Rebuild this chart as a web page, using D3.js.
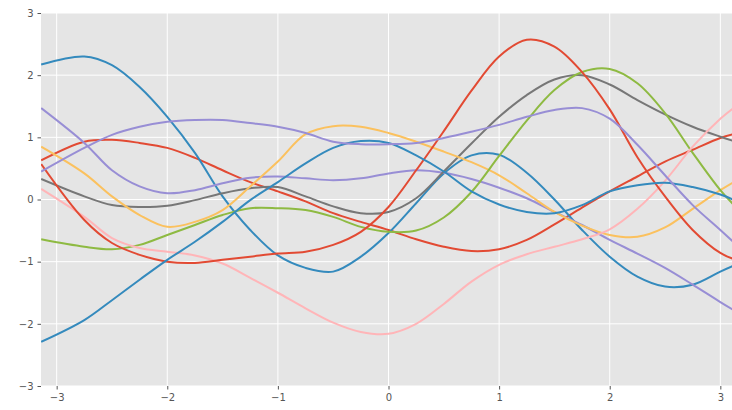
<!DOCTYPE html>
<html><head><meta charset="utf-8">
<script src="https://cdn.jsdelivr.net/npm/d3@7"></script>
<style>body{margin:0;background:#fff;} text{font-family:"DejaVu Sans",sans-serif;}</style>
</head><body><svg id="c" width="732" height="410"></svg>
<script>
const xs = [-3.14,-2.75,-2.5,-2.25,-2,-1.75,-1.5,-1.25,-1,-0.75,-0.5,-0.25,0,0.25,0.5,0.75,1,1.25,1.5,1.75,2,2.25,2.5,2.75,3,3.14];
const red1    = [0.63,0.93,0.96,0.91,0.83,0.67,0.47,0.28,0.13,-0.03,-0.22,-0.36,-0.49,-0.64,-0.76,-0.83,-0.80,-0.65,-0.40,-0.13,0.13,0.37,0.61,0.80,0.99,1.06];
const blue1   = [2.17,2.30,2.16,1.81,1.33,0.75,0.05,-0.49,-0.90,-1.10,-1.16,-0.92,-0.54,-0.06,0.42,0.71,0.72,0.43,0.00,-0.49,-0.92,-1.24,-1.40,-1.37,-1.16,-1.05];
const purple1 = [1.47,0.91,0.47,0.21,0.10,0.15,0.26,0.35,0.37,0.34,0.31,0.34,0.42,0.47,0.43,0.33,0.19,0.02,-0.20,-0.41,-0.65,-0.87,-1.10,-1.37,-1.65,-1.80];
const gray    = [0.33,0.05,-0.09,-0.12,-0.10,-0.01,0.10,0.18,0.20,0.05,-0.11,-0.22,-0.20,0.02,0.45,0.90,1.33,1.68,1.93,2.00,1.85,1.60,1.37,1.17,1.01,0.93];
const yellow  = [0.85,0.42,0.05,-0.25,-0.44,-0.36,-0.17,0.21,0.61,1.05,1.18,1.17,1.07,0.93,0.77,0.60,0.39,0.10,-0.20,-0.42,-0.57,-0.60,-0.45,-0.15,0.15,0.30];
const green   = [-0.64,-0.76,-0.80,-0.73,-0.57,-0.41,-0.25,-0.14,-0.14,-0.17,-0.28,-0.44,-0.52,-0.50,-0.29,0.12,0.70,1.27,1.76,2.05,2.10,1.87,1.39,0.75,0.15,-0.12];
const pink    = [0.17,-0.28,-0.62,-0.78,-0.84,-0.90,-1.03,-1.26,-1.50,-1.75,-1.98,-2.13,-2.16,-2.00,-1.68,-1.32,-1.05,-0.88,-0.76,-0.64,-0.48,-0.15,0.30,0.85,1.30,1.50];
const red2    = [0.57,-0.33,-0.70,-0.89,-1.00,-1.02,-0.97,-0.92,-0.87,-0.84,-0.73,-0.52,-0.12,0.47,1.10,1.75,2.30,2.57,2.46,2.05,1.45,0.68,0.05,-0.49,-0.86,-0.97];
const blue2   = [-2.29,-1.94,-1.62,-1.29,-0.97,-0.68,-0.36,-0.01,0.28,0.58,0.83,0.94,0.91,0.71,0.45,0.13,-0.08,-0.20,-0.22,-0.09,0.13,0.23,0.27,0.20,0.08,-0.02];
const purple2 = [0.45,0.83,1.04,1.17,1.25,1.28,1.28,1.23,1.17,1.07,0.93,0.89,0.89,0.91,0.99,1.09,1.20,1.33,1.44,1.47,1.30,0.88,0.39,-0.09,-0.49,-0.72];
const seriesList = [red1,blue1,purple1,gray,yellow,green,pink,red2,blue2,purple2];
const colors = ["#E24A33","#348ABD","#988ED5","#777777","#FBC15E","#8EBA42","#FFB5B8"];
const xTicks = [-3,-2,-1,0,1,2,3];
const yTicks = [-3,-2,-1,0,1,2,3];

const svg = d3.select("#c");
const L=41, R=736, T=13, B=386;
const x = d3.scaleLinear().domain([-Math.PI, Math.PI]).range([L,R]);
const y = d3.scaleLinear().domain([-3,3]).range([B,T]);

svg.append("rect").attr("x",L).attr("y",T).attr("width",R-L).attr("height",B-T).attr("fill","#E5E5E5");
svg.append("defs").append("clipPath").attr("id","clip").append("rect").attr("x",L).attr("y",T).attr("width",R-L).attr("height",B-T);

const g = svg.append("g");
g.selectAll(".gx").data(xTicks).join("line").attr("x1",d=>x(d)).attr("x2",d=>x(d)).attr("y1",T).attr("y2",B).attr("stroke","#fff").attr("stroke-width",1);
g.selectAll(".gy").data(yTicks).join("line").attr("x1",L).attr("x2",R).attr("y1",d=>y(d)).attr("y2",d=>y(d)).attr("stroke","#fff").attr("stroke-width",1);

const xAxis = svg.append("g").attr("transform",`translate(0,${B})`)
  .call(d3.axisBottom(x).tickValues(xTicks).tickFormat(d=>d<0?"\u2212"+Math.abs(d):d).tickSize(3.5).tickPadding(4));
const yAxis = svg.append("g").attr("transform",`translate(${L},0)`)
  .call(d3.axisLeft(y).tickValues(yTicks).tickFormat(d=>d<0?"\u2212"+Math.abs(d):d).tickSize(3.5).tickPadding(4));
[xAxis,yAxis].forEach(a=>{
  a.select(".domain").remove();
  a.selectAll(".tick line").attr("stroke","#555");
  a.selectAll(".tick text").attr("fill","#555").attr("font-size","10px").attr("font-family","DejaVu Sans");
});

const line = d3.line().x((d,i)=>x(xs[i])).y(d=>y(d)).curve(d3.curveCatmullRom.alpha(0.5));
svg.append("g").attr("clip-path","url(#clip)").selectAll("path").data(seriesList).join("path")
  .attr("d",line).attr("fill","none").attr("stroke",(d,i)=>colors[i%colors.length]).attr("stroke-width",2);
</script></body></html>
